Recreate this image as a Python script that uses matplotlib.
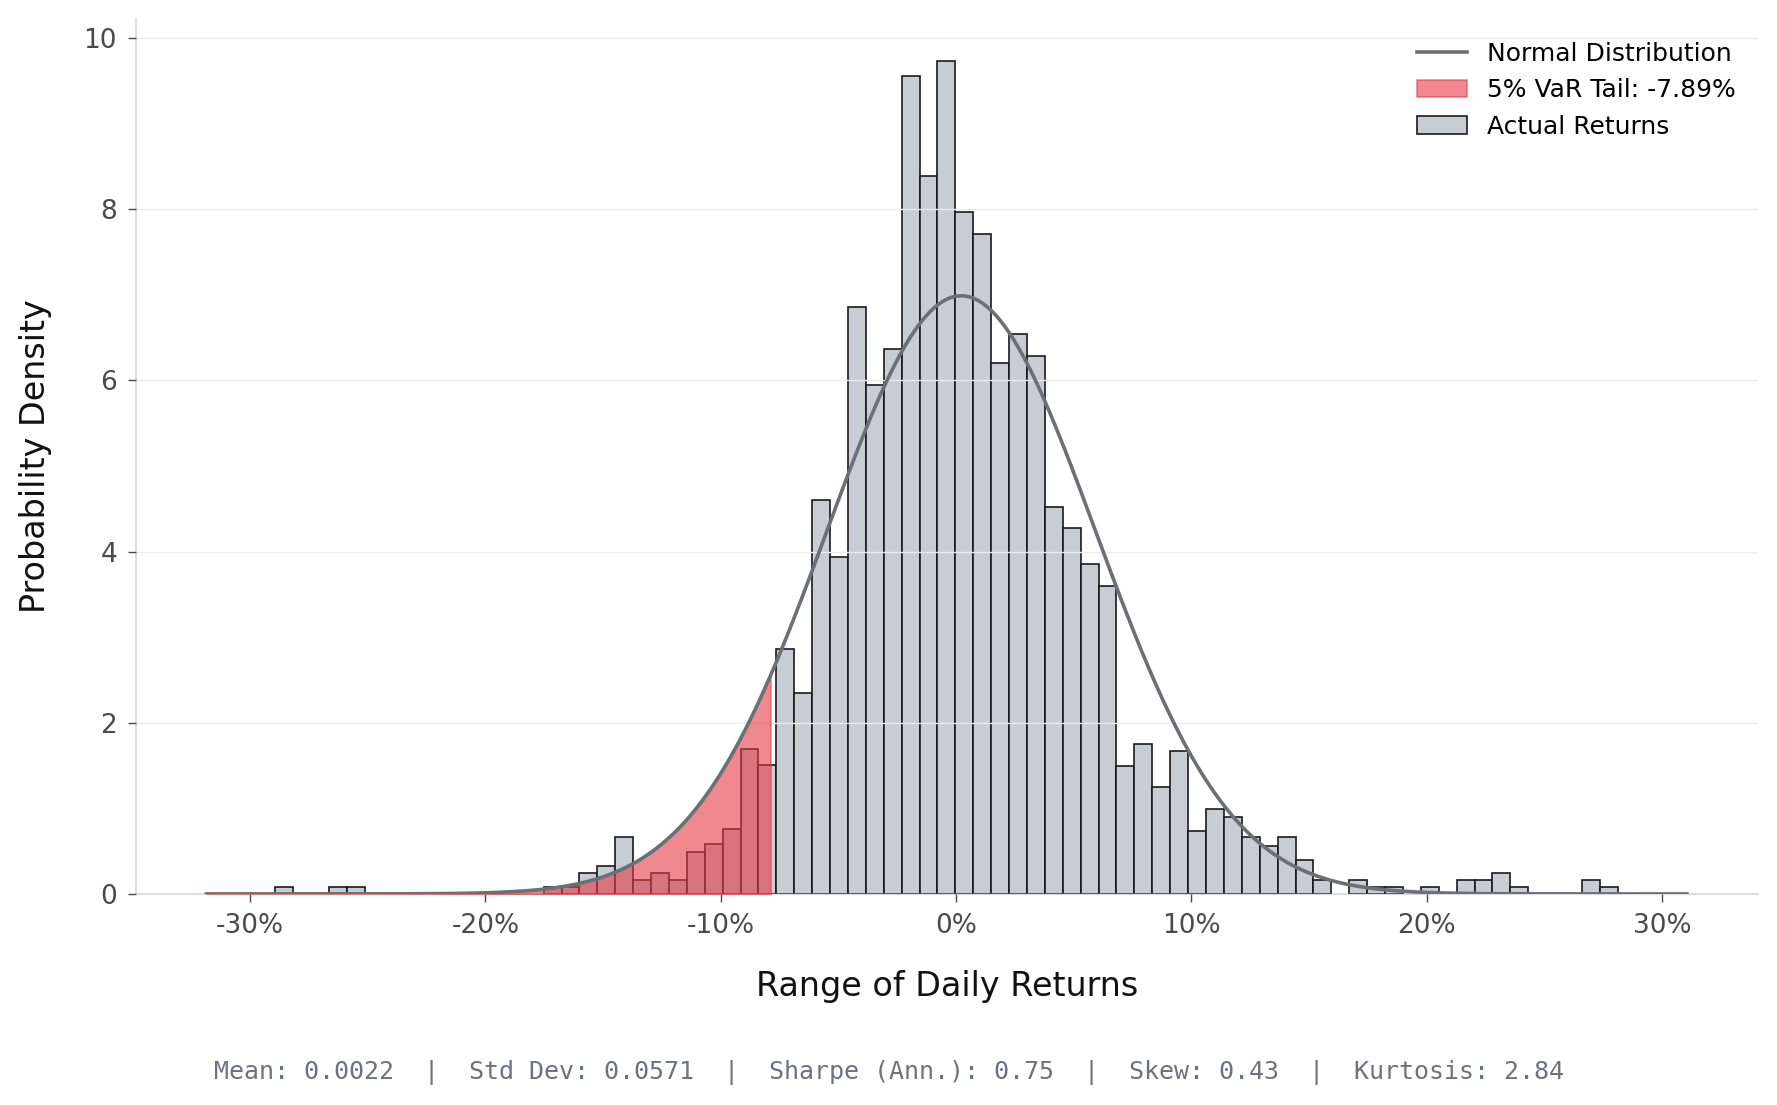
import matplotlib

matplotlib.use("Agg")
import matplotlib.pyplot as plt
import numpy as np
from matplotlib.ticker import FuncFormatter

# histogram of returns (density), 75 equal bins starting at BIN_START
BIN_START = -0.2894
BIN_WIDTH = 0.007608
DENSITY = [
    0.08, 0, 0, 0.08, 0.08, 0, 0, 0, 0, 0,
    0, 0, 0, 0, 0, 0.08, 0.08, 0.24, 0.33, 0.67,
    0.16, 0.24, 0.16, 0.49, 0.58, 0.76, 1.69, 1.51, 2.86, 2.35,
    4.60, 3.93, 6.86, 5.95, 6.37, 9.55, 8.39, 9.73, 7.96, 7.71,
    6.20, 6.54, 6.28, 4.52, 4.27, 3.85, 3.60, 1.50, 1.75, 1.25,
    1.67, 0.74, 0.99, 0.90, 0.66, 0.56, 0.66, 0.40, 0.16, 0,
    0.16, 0.08, 0.08, 0, 0.08, 0, 0.16, 0.16, 0.24, 0.08,
    0, 0, 0, 0.16, 0.08,
]

# summary stats shown under the chart
MEAN = 0.0022
STD = 0.0571
SHARPE = 0.75
SKEW = 0.43
KURTOSIS = 2.84
VAR_5 = -0.0789

CURVE_LO = -0.3186
CURVE_HI = 0.3106

BAR_COLOR = "#c8ccd3"
CURVE_COLOR = "#6b6f76"
VAR_COLOR = "#e63946"
TICK_COLOR = "#4a4a4a"


def normal_pdf(x: np.ndarray) -> np.ndarray:
    return np.exp(-0.5 * ((x - MEAN) / STD) ** 2) / (STD * np.sqrt(2 * np.pi))


def main() -> None:
    fig = plt.figure(figsize=(17.77, 11.05), dpi=100)
    ax = fig.add_axes([0.0768, 0.191, 0.9125, 0.7918])

    dens = np.array(DENSITY, dtype=float)
    lefts = BIN_START + np.arange(len(dens)) * BIN_WIDTH
    keep = dens > 0
    bars = ax.bar(lefts[keep], dens[keep], width=BIN_WIDTH, align="edge",
                  color=BAR_COLOR, edgecolor="#1a1a1a", linewidth=1.2,
                  zorder=1, label="Actual Returns")

    x = np.linspace(CURVE_LO, CURVE_HI, 600)
    pdf = normal_pdf(x)
    xt = np.append(x[x <= VAR_5], VAR_5)
    fill = ax.fill_between(xt, 0, normal_pdf(xt), color=VAR_COLOR, alpha=0.6,
                           linewidth=1.2, zorder=3,
                           label=f"5% VaR Tail: {VAR_5 * 100:.2f}%")
    line, = ax.plot(x, pdf, color=CURVE_COLOR, linewidth=2.6, zorder=4,
                    label="Normal Distribution")

    ax.set_xlim(-0.3483, 0.3408)
    ax.set_ylim(0, 10.22)
    ax.set_xticks(np.arange(-0.3, 0.31, 0.1))
    ax.set_yticks(np.arange(0, 11, 2))
    ax.xaxis.set_major_formatter(FuncFormatter(lambda v, _: f"{v * 100:.0f}%"))

    ax.set_axisbelow(False)
    ax.yaxis.grid(True, color="#ebebeb", linewidth=1.0)
    ax.xaxis.grid(False)
    for side in ("top", "right"):
        ax.spines[side].set_visible(False)
    for side in ("left", "bottom"):
        ax.spines[side].set_color("#dcdde2")
        ax.spines[side].set_linewidth(1.5)
        ax.spines[side].set_zorder(0.5)
    ax.tick_params(axis="both", labelsize=19, colors=TICK_COLOR, length=6,
                   width=1.0, pad=8)

    ax.set_xlabel("Range of Daily Returns", fontsize=24, color="#111111", va="center")
    ax.xaxis.set_label_coords(0.5, -0.106)
    ax.set_ylabel("Probability Density", fontsize=24, color="#111111", va="center")
    ax.yaxis.set_label_coords(-0.0625, 0.5)

    ax.legend(handles=[line, fill, bars], loc="upper right", frameon=False,
              fontsize=18)

    stats = (f"Mean: {MEAN:.4f}  |  Std Dev: {STD:.4f}  |  Sharpe (Ann.): {SHARPE:.2f}"
             f"  |  Skew: {SKEW:.2f}  |  Kurtosis: {KURTOSIS:.2f}")
    fig.text(0.5, 0.029, stats, ha="center", va="center", fontsize=18,
             family="DejaVu Sans Mono", color="#6b7280")

    fig.savefig("out.png", dpi=100)
    plt.close(fig)


if __name__ == "__main__":
    main()
